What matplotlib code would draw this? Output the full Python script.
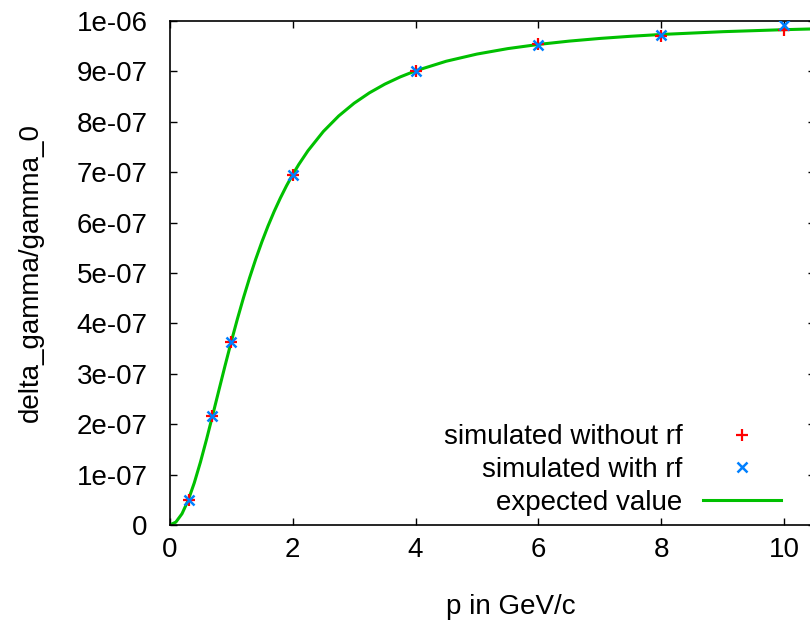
import matplotlib
matplotlib.use("Agg")
import matplotlib.pyplot as plt

plt.rcParams['font.family'] = ['Liberation Sans', 'DejaVu Sans']

# simulated data
p_sim = [0.31, 0.69, 1.0, 2.0, 4.0, 6.0, 8.0, 10.0]
no_rf = [0.049e-6, 0.217e-6, 0.363e-6, 0.694e-6, 0.901e-6, 0.955e-6, 0.971e-6, 0.983e-6]
with_rf = [0.049e-6, 0.217e-6, 0.363e-6, 0.694e-6, 0.901e-6, 0.952e-6, 0.972e-6, 0.992e-6]

# expected curve
p_exp = [0, 0.1, 0.2, 0.3, 0.4, 0.5, 0.6, 0.7, 0.8, 0.9, 1.0, 1.1, 1.2, 1.3, 1.4,
         1.5, 1.6, 1.7, 1.8, 1.9, 2.0, 2.1, 2.25, 2.5, 2.75, 3.0, 3.25, 3.5,
         3.75, 4.0, 4.5, 5.0, 5.5, 6.0, 6.5, 7.0, 7.5, 8.0, 9.0, 10.0, 10.5]
expected = [0, 0.0057e-6, 0.0223e-6, 0.0488e-6, 0.0836e-6, 0.1247e-6, 0.1702e-6,
            0.2183e-6, 0.2672e-6, 0.3158e-6, 0.3630e-6, 0.4081e-6, 0.4507e-6,
            0.4906e-6, 0.5276e-6, 0.5618e-6, 0.5933e-6, 0.6222e-6, 0.6486e-6,
            0.6729e-6, 0.6950e-6, 0.7153e-6, 0.7426e-6, 0.7808e-6, 0.8116e-6,
            0.8368e-6, 0.8575e-6, 0.8747e-6, 0.8890e-6, 0.9011e-6, 0.9202e-6,
            0.9344e-6, 0.9452e-6, 0.9535e-6, 0.9601e-6, 0.9654e-6, 0.9697e-6,
            0.9733e-6, 0.9788e-6, 0.9828e-6, 0.9844e-6]

xticks = [0, 2, 4, 6, 8, 10]
yticks = [0, 1e-7, 2e-7, 3e-7, 4e-7, 5e-7, 6e-7, 7e-7, 8e-7, 9e-7, 1e-6]
yticklabels = ['0', '1e-07', '2e-07', '3e-07', '4e-07', '5e-07', '6e-07',
               '7e-07', '8e-07', '9e-07', '1e-06']

FS = 20

fig = plt.figure(figsize=(8.1, 6.23), dpi=100)
ax = fig.add_axes([169.7 / 810, 98 / 623, (815 - 169.7) / 810, (525 - 21) / 623])

ax.plot(p_sim, no_rf, linestyle='none', marker='+', color='#ff0000',
        markersize=8, markeredgewidth=1.6, label='simulated without rf', zorder=3)
ax.plot(p_sim, with_rf, linestyle='none', marker='x', color='#0080ff',
        markersize=6.5, markeredgewidth=1.8, label='simulated with rf', zorder=3)
ax.plot(p_exp, expected, color='#00c000', linewidth=2.2, label='expected value', zorder=2)

ax.set_xlim(0, 10.5)
ax.set_ylim(0, 1e-6)
ax.set_xticks(xticks)
ax.set_xticklabels([str(t) for t in xticks])
ax.set_yticks(yticks)
ax.set_yticklabels(yticklabels)

ax.tick_params(axis='both', direction='in', length=5, width=1, labelsize=FS,
               top=True, right=True, colors='black')
ax.tick_params(axis='y', pad=16)
ax.tick_params(axis='x', pad=8.5)
for s in ax.spines.values():
    s.set_linewidth(1.2)

ax.set_xlabel('p in GeV/c', fontsize=FS)
ax.set_ylabel('delta_gamma/gamma_0', fontsize=FS)
ax.xaxis.set_label_coords((511 - 169.7) / (815 - 169.7), -(594 - 525) / 504)
ax.yaxis.set_label_coords(-(169.7 - 44) / (815 - 169.7), 0.5)

leg = ax.legend(loc='lower right', bbox_to_anchor=((795 - 169.7) / (815 - 169.7), (525 - 530) / 504),
                markerfirst=False, frameon=False, fontsize=FS, handlelength=2.8,
                handletextpad=0.75, labelspacing=0.25, borderpad=0)
leg._legend_box.align = 'right'

fig.savefig('out.png', dpi=100)
